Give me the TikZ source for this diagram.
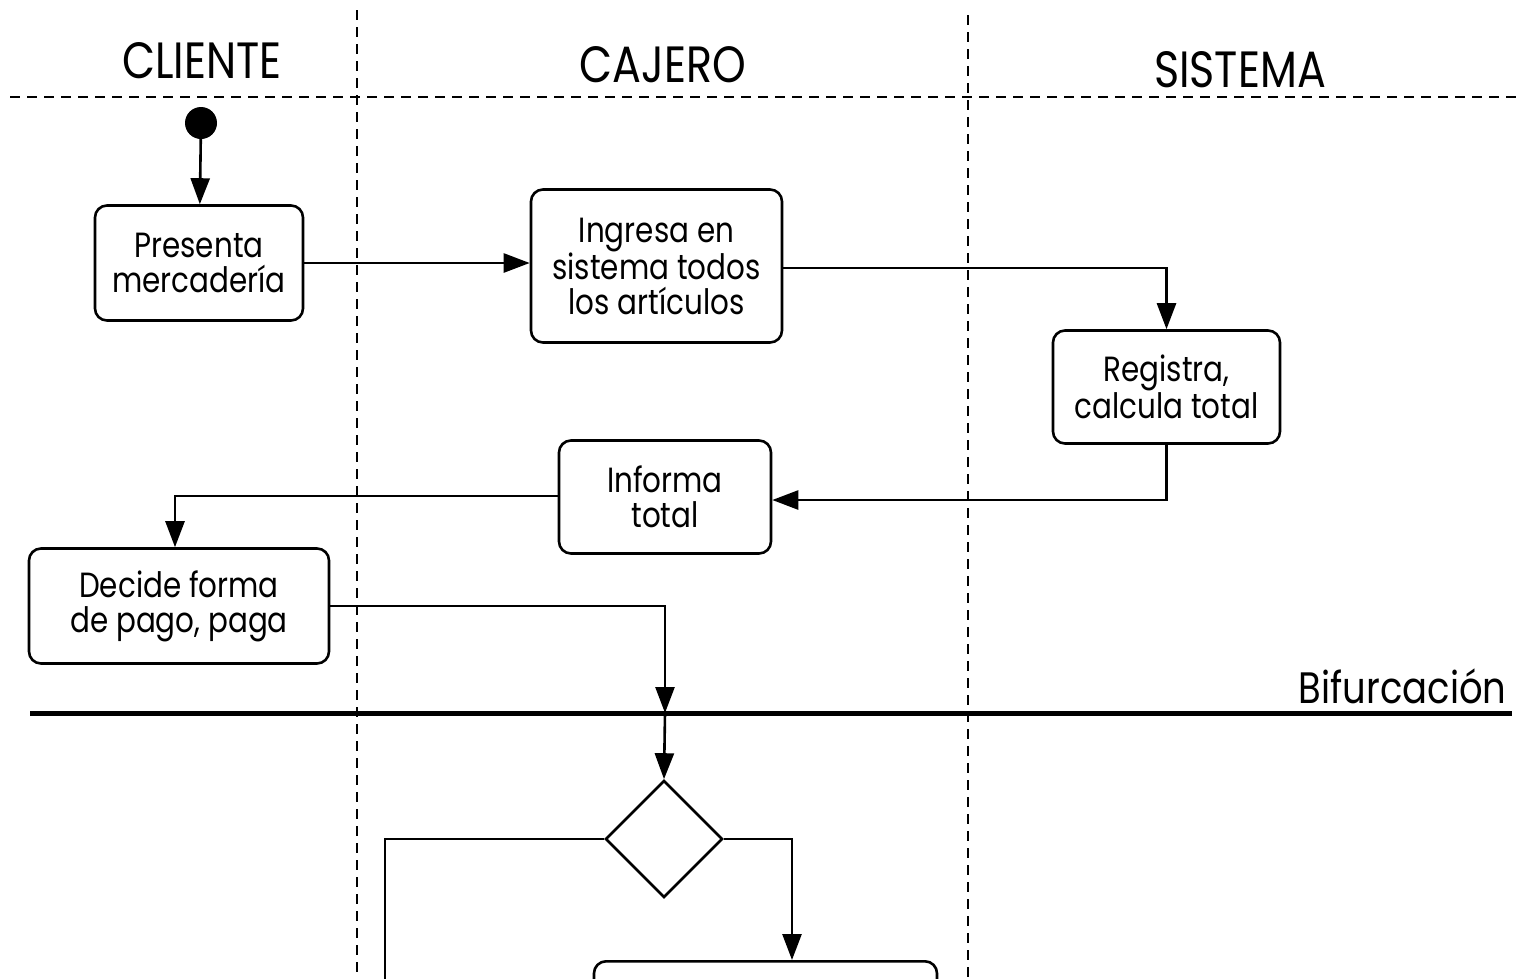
\documentclass[tikz,border=0pt]{standalone}
\usepackage{fontspec}
\setmainfont{Poppins}[FakeStretch=0.84]
\usetikzlibrary{arrows.meta,shapes.geometric}
\begin{document}
\begin{tikzpicture}[x=1pt,y=-1pt,
  act/.style={draw,line width=2.6pt,rounded corners=12pt,align=center,
    font=\fontsize{35}{35}\selectfont,inner sep=0pt},
  flow/.style={line width=2.6pt,-{Triangle[length=26pt,width=19pt]}},
  plain/.style={line width=2.6pt},
  lane/.style={line width=2.2pt,dash pattern=on 10pt off 7pt},
  head/.style={font=\fontsize{51}{51}\selectfont,anchor=base}]
\useasboundingbox (0,0) rectangle (1519,978);
\clip (0,0) rectangle (1519,978);

% swimlane separators
\draw[lane] (357,10) -- (357,978);
\draw[lane] (968,15) -- (968,978);
\draw[lane] (10,97) -- (1519,97);

\node[head] (hcli) at (202,78) {CLIENTE};
\node[head] (hcaj) at (663,82) {CAJERO};
\node[head] (hsis) at (1240,87) {SISTEMA};

% initial state
\node[circle,fill,minimum size=32pt,inner sep=0pt] (ini) at (201,123) {};

% activities
\node[act,minimum width=208pt,minimum height=115pt] (pres) at (199,263) {Presenta\\mercadería};
\node[act,minimum width=251pt,minimum height=153pt] (ingr) at (656.5,266) {Ingresa en\\sistema todos\\los artículos};
\node[act,minimum width=227pt,minimum height=113pt] (regi) at (1166.5,387) {Registra,\\calcula total};
\node[act,minimum width=212pt,minimum height=113pt] (info) at (665,497) {Informa\\total};
\node[act,minimum width=300pt,minimum height=115pt] (deci) at (179,606) {Decide forma\\de pago, paga};

% fork bar
\coordinate (barL) at (30,713);
\coordinate (barR) at (1512,713);
\draw[line width=5pt] (barL) -- (barR);
\node[font=\fontsize{44}{44}\selectfont,anchor=base east] (bif) at (1510,703) {Bifurcación};
\coordinate (barP) at (665,713);

% decision
\node[diamond,draw,line width=2.6pt,minimum width=117pt,minimum height=117pt,inner sep=0pt] (dec) at (664,839) {};

% partially visible activity at the bottom
\node[draw,line width=2.6pt,rounded corners=12pt,minimum width=343pt,minimum height=80pt,anchor=north] (next) at (765.5,960) {};
\coordinate (lowL) at (385,990);

% connectors
\draw[flow] (ini) -- (pres);
\draw[flow] (pres.east) -- (ingr.west |- pres.east);
\draw[flow] (ingr.east |- 0,268) -| (regi.north);
\draw[flow] (regi.south) |- (info.east |- 0,500);
\draw[flow] (info.west |- 0,496) -| (deci.north -| 175,0);
\draw[flow] (deci.east) -| (barP);
\draw[flow] (barP) -- (dec.north);
\draw[plain] (dec.west) -| (lowL);
\draw[flow] (dec.east) -| (next.north -| 792,0);
\end{tikzpicture}
\end{document}
